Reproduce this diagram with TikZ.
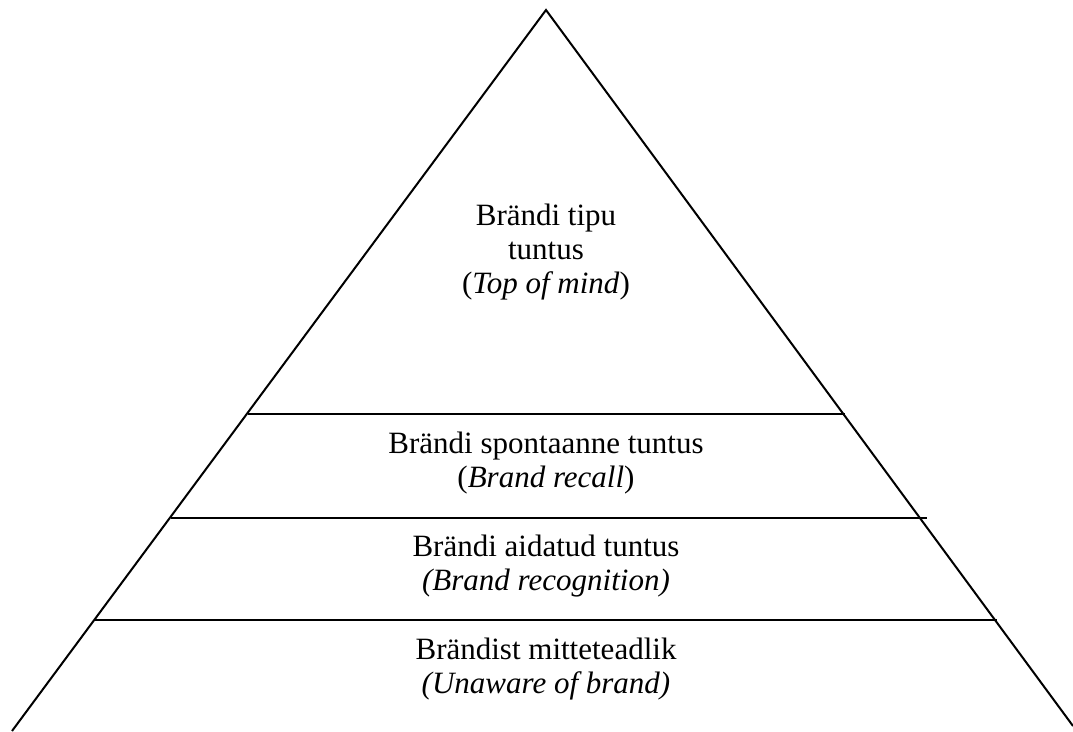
\documentclass[tikz,border=0pt]{standalone}
\usepackage{fontspec}
\setmainfont{Liberation Serif}
\tikzset{
  side/.style={line width=2pt},
  level/.style={line width=1.5pt},
  tier/.style={align=center, inner sep=0pt, font=\fontsize{31}{34}\selectfont}
}
\begin{document}
\begin{tikzpicture}[x=1pt, y=-1pt]
	\useasboundingbox (0,0) rectangle (1073,731);
	% Kolmnurga kyljed
	\coordinate (apex) at (546,10);
	\coordinate (left) at (12,731);
	\coordinate (right) at (1073,726);
	\draw[side] (left) -- (apex) -- (right);
	% Tasemete piirid
	\foreach \y/\xa/\xb in {414/248/845, 518/171/927, 620/95/997} {
		\draw[level] (\xa,\y) -- (\xb,\y);
	}
	% Tekstid
	\node[tier] (topmind) at (546,252) {Brändi tipu\\tuntus\\(\textit{Top of mind})};
	\node[tier] (recall) at (546,463) {Brändi spontaanne tuntus\\(\textit{Brand recall})};
	\node[tier] (recog) at (546,566) {Brändi aidatud tuntus\\\textit{(Brand recognition)}};
	\node[tier] (unaware) at (546,669) {Brändist mitteteadlik\\\textit{(Unaware of brand)}};
\end{tikzpicture}
\end{document}
